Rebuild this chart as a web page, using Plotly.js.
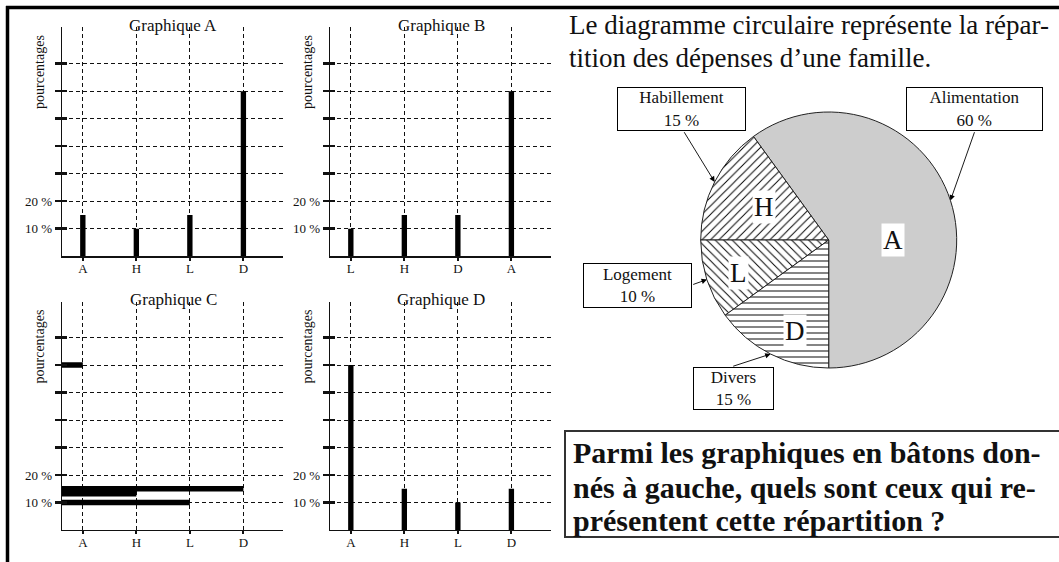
<!DOCTYPE html>
<html>
<head>
<meta charset="utf-8">
<script src="https://cdn.plot.ly/plotly-3.0.1.min.js"></script>
<style>html,body{margin:0;padding:0;background:#fff;}#chart{width:1059px;height:562px;}</style>
</head>
<body>
<div id="chart"></div>
<script>
// ---------------- data ----------------
const pieCategories = ['A', 'H', 'L', 'D'];
const pieNames = ['Alimentation', 'Habillement', 'Logement', 'Divers'];
const pieValues = [60, 15, 10, 15];

const catsA = ['A', 'H', 'L', 'D'];
const valsA = [15, 10, 15, 60];
const catsB = ['L', 'H', 'D', 'A'];
const valsB = [10, 15, 15, 60];
const catsC = ['A', 'H', 'L', 'D'];
const valsC = [60, 15, 10, 15];
const catsD = ['A', 'H', 'L', 'D'];
const valsD = [60, 15, 10, 15];

const yTickVals = [10, 20, 30, 40, 50, 60, 70];
const yTickText = ['10 %', '20 %', '', '', '', '', ''];

const introLines = ['Le diagramme circulaire représente la répar-', 'tition des dépenses d’une famille.'];
const questionLines = ['Parmi les graphiques en bâtons don-', 'nés à gauche, quels sont ceux qui re-', 'présentent cette répartition ?'];

// ---------------- layout helpers ----------------
const W = 1059, H = 562;
const fx = p => p / W;
const fy = p => 1 - p / H;
const SERIF = 'Liberation Serif, Times New Roman, serif';
const INK = '#111';

const panels = [
  {title: 'Graphique A', cats: catsA, vals: valsA, horiz: false, left: 62, right: 283, top: 27, bottom: 256.2},
  {title: 'Graphique B', cats: catsB, vals: valsB, horiz: false, left: 330, right: 551, top: 27, bottom: 256.2},
  {title: 'Graphique C', cats: catsC, vals: valsC, horiz: true, left: 62, right: 283, top: 301.5, bottom: 530},
  {title: 'Graphique D', cats: catsD, vals: valsD, horiz: false, left: 330, right: 551, top: 301.5, bottom: 530}
];
const PX_PER_UNIT = 2.75; // pixels per percent
const XRANGE = [0.611, 4.74];

const data = [];
const layout = {
  width: W, height: H,
  margin: {l: 0, r: 0, t: 0, b: 0},
  paper_bgcolor: '#fff', plot_bgcolor: 'rgba(0,0,0,0)',
  showlegend: false,
  annotations: [], shapes: []
};

panels.forEach((p, i) => {
  const n = i + 1;
  const sfx = n === 1 ? '' : String(n);
  const ymax = (p.bottom - p.top) / PX_PER_UNIT;
  const pos = p.cats.map((c, k) => k + 1);
  layout['xaxis' + sfx] = {
    domain: [fx(p.left), fx(p.right)], range: XRANGE, anchor: 'y' + sfx,
    tickmode: 'array', tickvals: pos, ticktext: p.cats,
    showline: true, linecolor: INK, linewidth: 1.3,
    ticks: 'outside', ticklen: 3, tickwidth: 2, tickcolor: INK, ticklabelstandoff: -3,
    showgrid: true, gridcolor: INK, gridwidth: 1, griddash: '4px,3px',
    zeroline: false, fixedrange: true,
    tickfont: {family: SERIF, size: 13, color: INK}
  };
  layout['yaxis' + sfx] = {
    domain: [fy(p.bottom), fy(p.top)], range: [0, ymax], anchor: 'x' + sfx,
    tickmode: 'array', tickvals: yTickVals, ticktext: yTickText,
    showline: true, linecolor: INK, linewidth: 1.3,
    ticks: 'outside', ticklen: 6, tickwidth: 2.5, tickcolor: INK,
    showgrid: true, gridcolor: INK, gridwidth: 1, griddash: '4px,3px',
    zeroline: false, fixedrange: true,
    tickfont: {family: SERIF, size: 13, color: INK}
  };
  // overlay axis to draw the inner half of the crossing tick marks
  layout['yaxis' + (n + 4)] = {
    overlaying: 'y' + sfx, anchor: 'x' + sfx, side: 'left',
    range: [0, ymax], tickmode: 'array', tickvals: yTickVals,
    ticks: 'inside', ticklen: 5, tickwidth: 2.5, tickcolor: INK,
    showticklabels: false, showgrid: false, showline: false, zeroline: false, fixedrange: true
  };
  if (p.horiz) {
    data.push({
      type: 'bar', orientation: 'h', x: pos, y: p.vals, base: 0,
      width: [2, 3.8, 2, 2], offset: [-1, -2.8, -1, -1],
      marker: {color: '#000', line: {width: 0}},
      xaxis: 'x' + sfx, yaxis: 'y' + sfx, hoverinfo: 'skip'
    });
  } else {
    data.push({
      type: 'bar', x: pos, y: p.vals, width: 0.1,
      marker: {color: '#000', line: {width: 0}},
      xaxis: 'x' + sfx, yaxis: 'y' + sfx, hoverinfo: 'skip'
    });
  }
  data.push({type: 'scatter', x: [], y: [], xaxis: 'x' + sfx, yaxis: 'y' + (n + 4), hoverinfo: 'skip'});
  // titles
  layout.annotations.push({
    xref: 'paper', yref: 'paper', x: fx(p.left + 111), y: fy(p.top - 2),
    text: p.title, showarrow: false, xanchor: 'center', yanchor: 'middle',
    font: {family: SERIF, size: 17, color: INK}
  });
  layout.annotations.push({
    xref: 'paper', yref: 'paper', x: fx(p.left - 23), y: fy(p.top + 45),
    text: 'pourcentages', textangle: -90, showarrow: false, xanchor: 'center', yanchor: 'middle',
    font: {family: SERIF, size: 14, color: INK}
  });
});

// ---------------- pie ----------------
const PIE_CX = 828.7, PIE_CY = 240, PIE_R = 128;
const total = pieValues.reduce((a, b) => a + b, 0);
// first slice (A) begins at 6 o'clock and the slices run counterclockwise
const pieRotation = 180 - 360 * pieValues[0] / total;
data.push({
  type: 'pie', values: pieValues, labels: pieNames, sort: false,
  direction: 'counterclockwise', rotation: pieRotation,
  domain: {x: [fx(PIE_CX - PIE_R), fx(PIE_CX + PIE_R)], y: [fy(PIE_CY + PIE_R), fy(PIE_CY - PIE_R)]},
  textinfo: 'none', hoverinfo: 'skip',
  marker: {
    colors: ['#cdcdcd', '#ffffff', '#ffffff', '#ffffff'],
    line: {color: '#222', width: 1},
    pattern: {shape: ['', '/', '\\', '-'], fgcolor: '#000', size: 6, solidity: 0.16}
  }
});

const labelRadius = [0.5, 0.57, 0.75, 0.76];
const labelAngleShift = [-18, 0, 2, 7];
const callouts = [
  {cx: 974.3, cy: 108.7, w: 137, h: 44, tailX: 975, tailY: 130.7},
  {cx: 681.2, cy: 108.7, w: 129, h: 44, tailX: 683.3, tailY: 130.7},
  {cx: 637, cy: 285.2, w: 109, h: 45, tailX: 691.7, tailY: 285},
  {cx: 733, cy: 388.4, w: 81, h: 43, tailX: 731.7, tailY: 366.7}
];
let cum = 0;
pieValues.forEach((v, i) => {
  const mid = -90 + 360 * (cum + v / 2) / total; // math angle, ccw from +x
  cum += v;
  const a = (mid + labelAngleShift[i]) * Math.PI / 180;
  const r = labelRadius[i] * PIE_R;
  layout.annotations.push({
    xref: 'paper', yref: 'paper',
    x: fx(PIE_CX + r * Math.cos(a)), y: fy(PIE_CY - r * Math.sin(a)),
    text: pieCategories[i], showarrow: false, xanchor: 'center', yanchor: 'middle',
    bgcolor: '#fff', borderpad: 1,
    font: {family: SERIF, size: 27, color: INK}
  });
  const am = mid * Math.PI / 180;
  const hx = PIE_CX + PIE_R * Math.cos(am), hy = PIE_CY - PIE_R * Math.sin(am);
  const c = callouts[i];
  layout.annotations.push({
    xref: 'paper', yref: 'paper', x: fx(c.cx), y: fy(c.cy),
    text: pieNames[i] + '<br>' + v + ' %', showarrow: false,
    xanchor: 'center', yanchor: 'middle', align: 'center', valign: 'middle',
    width: c.w - 2, height: c.h - 2, bgcolor: '#fff', bordercolor: '#000', borderwidth: 1, borderpad: 0,
    font: {family: SERIF, size: 17, color: INK}
  });
  layout.annotations.push({
    xref: 'paper', yref: 'paper', x: fx(hx), y: fy(hy),
    ax: c.tailX - hx, ay: c.tailY - hy, axref: 'pixel', ayref: 'pixel',
    text: '', showarrow: true, arrowhead: 2, arrowsize: 1.2, arrowwidth: 0.9, arrowcolor: '#000', standoff: 0
  });
});

// ---------------- texts ----------------
const introY = [25, 58];
introLines.forEach((t, i) => layout.annotations.push({
  xref: 'paper', yref: 'paper', x: fx(567), y: fy(introY[i]), xanchor: 'left', yanchor: 'middle',
  text: t, showarrow: false, font: {family: SERIF, size: 27, color: INK}
}));
const questionY = [452, 487, 520];
questionLines.forEach((t, i) => layout.annotations.push({
  xref: 'paper', yref: 'paper', x: fx(571), y: fy(questionY[i]), xanchor: 'left', yanchor: 'middle',
  text: '<b>' + t + '</b>', showarrow: false, font: {family: SERIF, size: 30, color: INK}
}));

// frame and question box
layout.shapes.push(
  {type: 'line', xref: 'paper', yref: 'paper', x0: fx(6), x1: 1, y0: fy(7.5), y1: fy(7.5), line: {color: '#000', width: 3.5}},
  {type: 'line', xref: 'paper', yref: 'paper', x0: fx(7.5), x1: fx(7.5), y0: fy(6), y1: 0, line: {color: '#000', width: 3.5}},
  {type: 'rect', xref: 'paper', yref: 'paper', x0: fx(565), x1: 1.01, y0: fy(537), y1: fy(431), line: {color: '#333', width: 2}}
);

Plotly.newPlot('chart', data, layout, {staticPlot: true, displayModeBar: false});
</script>
</body>
</html>
